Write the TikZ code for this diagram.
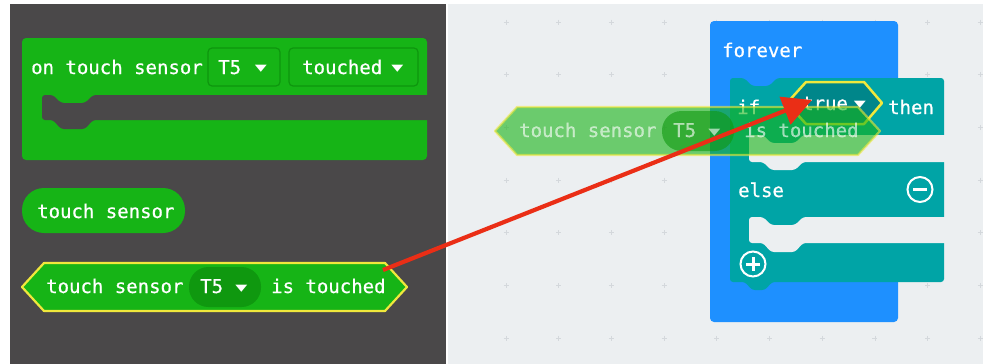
\documentclass[tikz,border=0pt]{standalone}
\usepackage{fontspec}
\usetikzlibrary{arrows.meta}
\newfontfamily\blkfont{DejaVu Sans Mono}[FakeBold=0.6]
\newfontfamily\symfont{DejaVu Sans}
\definecolor{panel}{RGB}{74,72,73}
\definecolor{lightbg}{RGB}{236,239,241}
\definecolor{gridc}{RGB}{212,216,220}
\definecolor{grn}{RGB}{22,180,22}
\definecolor{grndark}{RGB}{14,150,14}
\definecolor{pillgrn}{RGB}{15,152,15}
\definecolor{hiyel}{RGB}{240,232,60}
\definecolor{blu}{RGB}{30,144,255}
\definecolor{teal}{RGB}{0,164,166}
\definecolor{tealdark}{RGB}{0,134,138}
\definecolor{arrred}{RGB}{234,46,22}
\newcommand{\ddtri}{\scalebox{1}[0.6]{▾}}
\tikzset{
  lbl/.style={font=\blkfont\fontsize{19}{19}\selectfont, text=white, inner sep=0pt, anchor=base west},
  ddglyph/.style={font=\symfont\fontsize{24}{24}\selectfont, text=white, inner sep=0pt, anchor=center},
  hexedge/.style={draw=hiyel, line width=2.2pt, line join=round},
  ddbox/.style={fill=grn, draw=grndark, line width=1.2pt, rounded corners=4pt},
  redarrow/.style={draw=arrred, line width=4.2pt, -{Triangle[length=29pt,width=29pt]}},
}
\newcommand{\hexblk}[1]{%
  \filldraw[fill=grn, hexedge] (22,287) -- (44,263) -- (385,263) -- (407,287) -- (385,311) -- (44,311) -- cycle;
  \fill[pillgrn, rounded corners=19.5pt] (189,267) rectangle (261,307);
  \node[lbl] (#1a) at (46,293) {touch sensor};
  \node[lbl] (#1b) at (200,293) {T5};
  \node[ddglyph] (#1c) at (241.5,288.5) {\ddtri};
  \node[lbl] (#1d) at (271,293) {is touched};
}
\begin{document}
\begin{tikzpicture}[x=1pt,y=-1pt]
\useasboundingbox (0,0) rectangle (983,364);
\fill[white] (0,0) rectangle (983,364);
\fill[panel] (10,4) rectangle (446,364);
\fill[lightbg] (448,4) rectangle (983,364);
% grid crosses
\foreach \i in {0,...,9}{
  \foreach \j in {0,...,6}{
    \draw[gridc, line width=0.8pt] ({506+52.7*\i-2.5},{22+52.7*\j}) -- ++(5,0)
      ({506+52.7*\i},{22+52.7*\j-2.5}) -- ++(0,5);
  }
}
% ---- event block
\fill[grn, rounded corners=4pt] (22,38) rectangle (427,160);
\fill[panel, rounded corners=3pt] (42,95) -- (53,95) -- (61,103) -- (85,103) -- (93,95) -- (434,95)
  -- (434,120) -- (93,120) -- (85,129) -- (61,129) -- (53,120) -- (42,120) -- cycle;
\node[lbl] (ev) at (31,74) {on touch sensor};
\draw[ddbox] (208,48) rectangle (280,86);
\node[lbl] (evt5) at (218,74) {T5};
\node[ddglyph] (evdd1) at (261,69) {\ddtri};
\draw[ddbox] (289,48) rectangle (418,86);
\node[lbl] (evtouched) at (302,74) {touched};
\node[ddglyph] (evdd2) at (397.5,69) {\ddtri};
% ---- touch sensor pill
\fill[grn, rounded corners=22pt] (22,188) rectangle (185,233);
\node[lbl] (ts) at (37,218) {touch sensor};
% ---- hex block
\hexblk{h}
\coordinate (tail) at (383,270);
% ---- forever block
\fill[blu, rounded corners=4pt] (710,21) rectangle (898,322);
\node[lbl] (forever) at (722,57) {forever};
% ---- if block
\fill[teal, rounded corners=3pt] (730,78) -- (744,78) -- (752,86) -- (769,86) -- (777,78) -- (944,78)
  -- (944,282) -- (772,282) -- (765,290) -- (752,290) -- (745,282) -- (730,282) -- cycle;
\fill[lightbg, rounded corners=3pt] (749,135) -- (763,135) -- (771,143) -- (795,143) -- (803,135) -- (950,135)
  -- (950,162) -- (803,162) -- (795,170) -- (771,170) -- (763,162) -- (749,162) -- cycle;
\fill[lightbg, rounded corners=3pt] (749,217) -- (763,217) -- (771,225) -- (795,225) -- (803,217) -- (950,217)
  -- (950,243) -- (803,243) -- (795,252) -- (771,252) -- (763,243) -- (749,243) -- cycle;
\node[lbl] (if) at (737,114) {if};
\node[lbl] (then) at (888,114) {then};
\node[lbl] (else) at (738,197) {else};
\draw[white, line width=2pt] (920,189.5) circle (12.5);
\draw[white, line width=3pt] (913,189.5) -- (927,189.5);
\draw[white, line width=2pt] (753,264) circle (12.5);
\draw[white, line width=3pt] (746,264) -- (760,264) (753,257) -- (753,271);
% true slot
\filldraw[fill=tealdark, draw=hiyel, line width=2.5pt, line join=round]
  (787,103) -- (806,82) -- (864,82) -- (882,103) -- (864,124) -- (806,124) -- cycle;
\node[lbl] (true) at (802,110) {true};
\node[ddglyph] (truedd) at (860,104.5) {\ddtri};
% ---- dragged translucent block
\begin{scope}[shift={(473,-156)}, opacity=0.6]
  \hexblk{g}
\end{scope}
% ---- arrow
\coordinate (tip) at (812,100);
\draw[redarrow] (tail) -- (tip);
\end{tikzpicture}
\end{document}
